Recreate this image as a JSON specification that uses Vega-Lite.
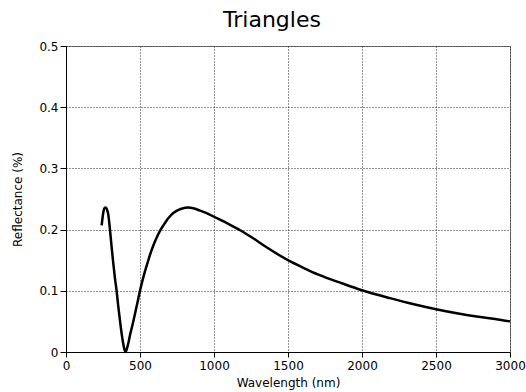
{
  "$schema": "https://vega.github.io/schema/vega-lite/v6.json",
  "width": 444,
  "height": 306,
  "autosize": {"type": "none"},
  "padding": {"left": 66, "top": 46, "right": 16, "bottom": 40},
  "background": "white",
  "title": {
    "text": "Triangles",
    "font": "DejaVu Sans",
    "fontSize": 22,
    "fontWeight": "normal",
    "color": "black",
    "anchor": "middle",
    "dx": -16,
    "offset": 8
  },
  "data": {
    "values": [
      {"wavelength": 241, "reflectance": 0.207},
      {"wavelength": 252, "reflectance": 0.228},
      {"wavelength": 260, "reflectance": 0.235},
      {"wavelength": 268, "reflectance": 0.236},
      {"wavelength": 278, "reflectance": 0.232},
      {"wavelength": 286, "reflectance": 0.224},
      {"wavelength": 297, "reflectance": 0.200},
      {"wavelength": 308, "reflectance": 0.172},
      {"wavelength": 320, "reflectance": 0.144},
      {"wavelength": 331, "reflectance": 0.120},
      {"wavelength": 342, "reflectance": 0.100},
      {"wavelength": 353, "reflectance": 0.075},
      {"wavelength": 365, "reflectance": 0.051},
      {"wavelength": 376, "reflectance": 0.030},
      {"wavelength": 387, "reflectance": 0.013},
      {"wavelength": 396, "reflectance": 0.003},
      {"wavelength": 403, "reflectance": 0.000},
      {"wavelength": 412, "reflectance": 0.006},
      {"wavelength": 422, "reflectance": 0.015},
      {"wavelength": 432, "reflectance": 0.027},
      {"wavelength": 449, "reflectance": 0.044},
      {"wavelength": 466, "reflectance": 0.062},
      {"wavelength": 483, "reflectance": 0.081},
      {"wavelength": 500, "reflectance": 0.100},
      {"wavelength": 517, "reflectance": 0.117},
      {"wavelength": 534, "reflectance": 0.132},
      {"wavelength": 550, "reflectance": 0.145},
      {"wavelength": 568, "reflectance": 0.159},
      {"wavelength": 590, "reflectance": 0.174},
      {"wavelength": 613, "reflectance": 0.187},
      {"wavelength": 635, "reflectance": 0.198},
      {"wavelength": 658, "reflectance": 0.207},
      {"wavelength": 680, "reflectance": 0.215},
      {"wavelength": 700, "reflectance": 0.221},
      {"wavelength": 725, "reflectance": 0.227},
      {"wavelength": 750, "reflectance": 0.231},
      {"wavelength": 780, "reflectance": 0.234},
      {"wavelength": 826, "reflectance": 0.236},
      {"wavelength": 860, "reflectance": 0.235},
      {"wavelength": 905, "reflectance": 0.231},
      {"wavelength": 950, "reflectance": 0.227},
      {"wavelength": 1000, "reflectance": 0.221},
      {"wavelength": 1100, "reflectance": 0.209},
      {"wavelength": 1177, "reflectance": 0.199},
      {"wavelength": 1257, "reflectance": 0.187},
      {"wavelength": 1350, "reflectance": 0.172},
      {"wavelength": 1500, "reflectance": 0.150},
      {"wavelength": 1600, "reflectance": 0.138},
      {"wavelength": 1710, "reflectance": 0.126},
      {"wavelength": 1868, "reflectance": 0.112},
      {"wavelength": 2000, "reflectance": 0.101},
      {"wavelength": 2189, "reflectance": 0.088},
      {"wavelength": 2350, "reflectance": 0.078},
      {"wavelength": 2500, "reflectance": 0.070},
      {"wavelength": 2650, "reflectance": 0.063},
      {"wavelength": 2775, "reflectance": 0.058},
      {"wavelength": 2900, "reflectance": 0.054},
      {"wavelength": 3000, "reflectance": 0.050}
    ]
  },
  "mark": {
    "type": "line",
    "color": "black",
    "strokeWidth": 2.5,
    "interpolate": "monotone",
    "clip": false
  },
  "encoding": {
    "x": {
      "field": "wavelength",
      "type": "quantitative",
      "scale": {"domain": [0, 3000], "nice": false, "zero": true},
      "axis": {
        "title": "Wavelength (nm)",
        "values": [0, 500, 1000, 1500, 2000, 2500, 3000],
        "format": "d",
        "tickSize": 5,
        "labelPadding": 3,
        "titlePadding": 6
      }
    },
    "y": {
      "field": "reflectance",
      "type": "quantitative",
      "scale": {"domain": [0, 0.5], "nice": false},
      "axis": {
        "title": "Reflectance (%)",
        "values": [0, 0.1, 0.2, 0.3, 0.4, 0.5],
        "format": "~g",
        "tickSize": 6,
        "labelPadding": 2,
        "titlePadding": 14
      }
    }
  },
  "config": {
    "font": "DejaVu Sans",
    "view": {"stroke": "#808080", "strokeWidth": 1},
    "axis": {
      "domainColor": "black",
      "domainWidth": 1,
      "tickColor": "black",
      "tickWidth": 1,
      "labelFont": "DejaVu Sans",
      "labelFontSize": 12,
      "labelColor": "black",
      "titleFont": "DejaVu Sans",
      "titleFontSize": 12,
      "titleFontWeight": "normal",
      "titleColor": "black",
      "grid": true,
      "gridColor": "#222222",
      "gridDash": [1, 2],
      "gridWidth": 1,
      "gridOpacity": 1,
      "labelFlush": false,
      "labelOverlap": false
    }
  }
}
